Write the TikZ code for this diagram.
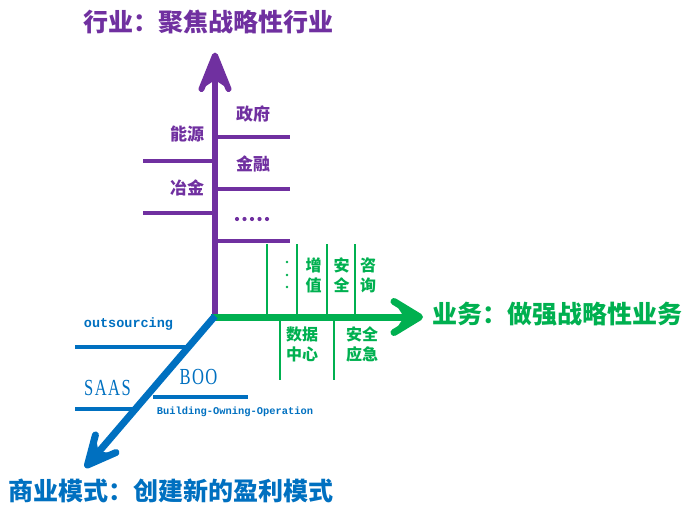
\documentclass[tikz,border=0pt]{standalone}
\usepackage{fontspec}
\newfontfamily\cjk{Noto Sans CJK SC}
\newfontfamily\monof{Liberation Mono}
\newfontfamily\serf{Liberation Serif}
\usetikzlibrary{calc}
\definecolor{pur}{HTML}{7030A0}
\definecolor{grn}{HTML}{00B050}
\definecolor{blu}{HTML}{0070C0}
\begin{document}
\begin{tikzpicture}[x=1pt,y=-1pt,
  title/.style={font=\cjk\bfseries\fontsize{25}{27}\selectfont, inner sep=0pt},
  plab/.style={text=pur, font=\cjk\bfseries\fontsize{17}{19}\selectfont, inner sep=0pt},
  glab/.style={text=grn, font=\cjk\bfseries\fontsize{16}{20}\selectfont, inner sep=0pt, align=center},
  pbranch/.style={draw=pur, line width=3.5pt},
  gbranch/.style={draw=grn, line width=2.8pt},
  bbranch/.style={draw=blu, line width=3.5pt},
  headarms/.style={line width=#1, line cap=round, line join=round}
]
\useasboundingbox (0,0) rectangle (684,511);
\coordinate (O) at (215,316);

% purple branches
\coordinate (p1) at (290,137); \coordinate (p1o) at (215,137);
\coordinate (p2) at (143,161); \coordinate (p2o) at (215,161);
\coordinate (p3) at (290,189); \coordinate (p3o) at (215,189);
\coordinate (p4) at (143,213); \coordinate (p4o) at (215,213);
\coordinate (p5) at (290,241); \coordinate (p5o) at (215,241);
\foreach \i in {1,...,5} {\draw[pbranch] (p\i o) -- (p\i);}

% green branches
\foreach \x [count=\i] in {267,297,327,355} {
  \coordinate (gu\i) at (\x,244); \coordinate (gu\i o) at (\x,317);
  \draw[gbranch] (gu\i o) -- (gu\i);}
\foreach \x [count=\i] in {280,334} {
  \coordinate (gd\i) at (\x,380); \coordinate (gd\i o) at (\x,317);
  \draw[gbranch] (gd\i o) -- (gd\i);}

% blue branches
\coordinate (b1) at (75,347); \coordinate (b1o) at (189,347);
\coordinate (b2) at (75,409); \coordinate (b2o) at (136,409);
\coordinate (b3) at (153,397); \coordinate (b3o) at (248,397);
\draw[bbranch] (b1) -- (b1o);
\draw[bbranch] (b2) -- (b2o);
\draw[bbranch] (b3) -- (b3o);

% ---- purple vertical axis
\coordinate (pT) at (215,55.5);
\coordinate (pN) at (215,80);
\coordinate (pL) at (201.5,89);
\coordinate (pR) at (228.5,89);
\draw[pur, line width=6pt] (O) -- (pN);
\fill[pur] (pT) -- (pL) -- (pN) -- (pR) -- cycle;
\draw[pur, headarms=6pt] (pL) -- (pT) -- (pR);

% ---- green horizontal axis
\coordinate (gS) at (211,317);
\coordinate (gT) at (419.5,317);
\coordinate (gN) at (404,317);
\coordinate (gL) at (394,301.5);
\coordinate (gR) at (394,332.5);
\draw[grn, line width=7pt] (gS) -- (gN);
\fill[grn] (gT) -- (gL) -- (gN) -- (gR) -- cycle;
\draw[grn, headarms=7pt] (gL) -- (gT) -- (gR);

% ---- blue diagonal axis
\coordinate (bT) at (87.5,465);
\coordinate (bB) at ($(bT)!28pt!(O)$);
\coordinate (bN) at ($(bT)!17pt!(O)$);
\coordinate (bL) at ($(bB)!13.5pt!90:(bT)$);
\coordinate (bR) at ($(bB)!13.5pt!-90:(bT)$);
\draw[blu, line width=7pt] (O) -- (bN);
\fill[blu] (bT) -- (bL) -- (bN) -- (bR) -- cycle;
\draw[blu, headarms=7pt] (bL) -- (bT) -- (bR);

% titles
\node[title, text=pur] (t1) at (208,22) {行业：聚焦战略性行业};
\node[title, text=grn] (t2) at (557,314) {业务：做强战略性业务};
\node[title, text=blu] (t3) at (171,491) {商业模式：创建新的盈利模式};

% purple labels
\node[plab] (zf) at (253,114) {政府};
\node[plab] (ny) at (187,134) {能源};
\node[plab] (jr) at (253,164) {金融};
\node[plab] (yj) at (187,188) {冶金};
\foreach \x [count=\i] in {237,244.5,252,259.5,267} {\fill[pur] (\x,219) circle (2.1pt);}

% green labels
\foreach \y in {262,275,287} {\fill[grn] (287,\y) circle (1.4pt);}
\node[glab] (zz) at (313.5,275.5) {增\\值};
\node[glab] (aq) at (341.5,275.5) {安\\全};
\node[glab] (zx) at (368,275.5) {咨\\询};
\node[glab] (sj) at (302,344.5) {数据\\中心};
\node[glab] (aqyj) at (362,344.5) {安全\\应急};

% blue labels
\node[text=blu, font=\monof\bfseries\fontsize{13.5}{15}\selectfont, inner sep=0pt] (out) at (128.5,324) {outsourcing};
\node[text=blu, font=\serf\fontsize{23}{25}\selectfont, inner sep=0pt] (saas) at (107.5,388) {\scalebox{0.72}[1]{S\kern2pt A\kern2pt A\kern2pt S}};
\node[text=blu, font=\serf\fontsize{23}{25}\selectfont, inner sep=0pt] (boo) at (198.5,377) {\scalebox{0.72}[1]{B\kern2pt O\kern2pt O}};
\node[text=blu, font=\monof\bfseries\fontsize{10.4}{12}\selectfont, inner sep=0pt] (bop) at (235,412) {Building-Owning-Operation};
\end{tikzpicture}
\end{document}
